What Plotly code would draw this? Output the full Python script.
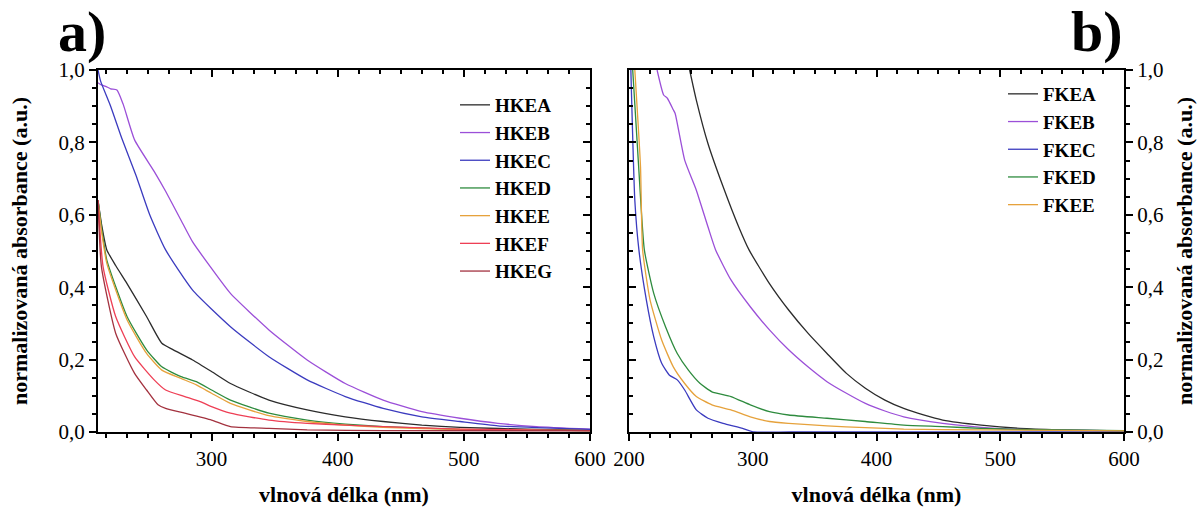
import plotly.graph_objects as go

W, H = 1197, 507

# ---------- Panel a data ----------
hkea_x = [210, 213, 217, 224, 233, 248.5, 260.6, 269.7, 285, 300, 315, 345.5, 375.8, 406, 436, 466.7, 497, 557.6, 600]
hkea_y = [0.64, 0.57, 0.503, 0.46, 0.41, 0.319, 0.245, 0.227, 0.199, 0.167, 0.134, 0.088, 0.061, 0.042, 0.029, 0.019, 0.013, 0.007, 0.005]

hkeb_x = [210, 212, 216, 220, 225, 230, 239, 254.5, 263.6, 275.8, 285, 300, 315, 345.5, 375.8, 406, 436, 466.7, 497, 527, 557.6, 600]
hkeb_y = [0.965, 0.96, 0.955, 0.948, 0.945, 0.905, 0.807, 0.72, 0.665, 0.585, 0.525, 0.452, 0.383, 0.282, 0.199, 0.134, 0.088, 0.056, 0.038, 0.024, 0.015, 0.008]

hkec_x = [210, 212, 220, 229, 240, 251, 263.6, 285, 315, 345.5, 375.8, 406, 436, 466.7, 497, 527, 557.6, 600]
hkec_y = [1.0, 0.97, 0.9, 0.81, 0.71, 0.6, 0.503, 0.392, 0.291, 0.208, 0.144, 0.098, 0.065, 0.042, 0.029, 0.017, 0.012, 0.007]

hked_x = [210, 213, 217, 233, 248.5, 260.6, 275.8, 288, 300, 315, 345.5, 375.8, 406, 436, 497, 600]
hked_y = [0.64, 0.56, 0.475, 0.319, 0.227, 0.18, 0.153, 0.139, 0.116, 0.088, 0.052, 0.033, 0.022, 0.015, 0.007, 0.004]

hkee_x = [210, 213, 217, 233, 248.5, 260.6, 275.8, 288, 300, 315, 345.5, 375.8, 406, 436, 497, 600]
hkee_y = [0.64, 0.55, 0.466, 0.31, 0.217, 0.171, 0.148, 0.13, 0.107, 0.079, 0.045, 0.029, 0.019, 0.013, 0.007, 0.004]

hkef_x = [210, 214, 224, 239, 254.5, 263.6, 278.8, 291, 300, 315, 345.5, 375.8, 406, 436, 497, 600]
hkef_y = [0.64, 0.457, 0.319, 0.208, 0.144, 0.116, 0.098, 0.084, 0.07, 0.052, 0.033, 0.024, 0.019, 0.015, 0.008, 0.004]

hkeg_x = [210, 212.7, 224, 239, 248.5, 257.6, 263.6, 278.8, 300, 315, 345.5, 375.8, 436, 600]
hkeg_y = [0.64, 0.457, 0.273, 0.162, 0.116, 0.075, 0.065, 0.052, 0.033, 0.015, 0.01, 0.006, 0.004, 0.003]

# ---------- Panel b data ----------
fkea_x = [249, 254.4, 263.8, 276, 288.6, 297, 313.5, 329, 344.6, 360, 375.7, 391, 406.8, 422, 438, 453.5, 484.6, 515.7, 546.8, 600]
fkea_y = [1.0, 0.917, 0.797, 0.678, 0.567, 0.503, 0.41, 0.337, 0.273, 0.217, 0.162, 0.121, 0.088, 0.065, 0.047, 0.033, 0.019, 0.010, 0.006, 0.003]

fkeb_x = [222.7, 228, 231, 235.8, 237.3, 245, 254.4, 263.8, 270, 282.4, 298, 313.5, 329, 344.6, 360, 375.7, 391, 406.8, 422, 453.5, 484.6, 515.7, 600]
fkeb_y = [1.0, 0.931, 0.922, 0.89, 0.88, 0.751, 0.668, 0.567, 0.503, 0.42, 0.346, 0.282, 0.227, 0.18, 0.139, 0.107, 0.079, 0.058, 0.042, 0.024, 0.013, 0.007, 0.003]

fkec_x = [201.5, 204.7, 208, 214, 220, 226.4, 232.7, 239, 245, 254.4, 263.8, 276, 291.8, 301, 330, 600]
fkec_y = [1.0, 0.64, 0.503, 0.365, 0.263, 0.19, 0.157, 0.144, 0.116, 0.061, 0.038, 0.024, 0.01, 0.0, 0.0, 0.0]

fked_x = [203, 207.8, 212.4, 220, 229.5, 239, 248, 257.5, 267, 282.4, 298, 313.5, 329, 360, 391, 422, 453.5, 484.6, 515.7, 600]
fked_y = [1.0, 0.733, 0.503, 0.383, 0.291, 0.217, 0.171, 0.134, 0.111, 0.098, 0.075, 0.056, 0.047, 0.038, 0.029, 0.019, 0.015, 0.010, 0.007, 0.004]

fkee_x = [204.7, 209.3, 211, 217, 226.4, 235.8, 245, 254.4, 267, 282.4, 298, 313.5, 329, 360, 391, 422, 484.6, 600]
fkee_y = [1.0, 0.733, 0.503, 0.365, 0.254, 0.18, 0.134, 0.098, 0.075, 0.061, 0.042, 0.029, 0.024, 0.017, 0.012, 0.008, 0.006, 0.003]

series_a = [
    ("HKEA", hkea_x, hkea_y, "#2b2b2b"),
    ("HKEB", hkeb_x, hkeb_y, "#9b4fd8"),
    ("HKEC", hkec_x, hkec_y, "#3b3bbf"),
    ("HKED", hked_x, hked_y, "#2e8b3e"),
    ("HKEE", hkee_x, hkee_y, "#e6a23c"),
    ("HKEF", hkef_x, hkef_y, "#ee3f55"),
    ("HKEG", hkeg_x, hkeg_y, "#a3323f"),
]
series_b = [
    ("FKEA", fkea_x, fkea_y, "#2b2b2b"),
    ("FKEB", fkeb_x, fkeb_y, "#9b4fd8"),
    ("FKEC", fkec_x, fkec_y, "#3b3bbf"),
    ("FKED", fked_x, fked_y, "#2e8b3e"),
    ("FKEE", fkee_x, fkee_y, "#e6a23c"),
]

x_tick_a = [300, 400, 500, 600]
x_tick_b = [200, 300, 400, 500, 600]
y_ticks = [0.0, 0.2, 0.4, 0.6, 0.8, 1.0]

FONT = "'Liberation Serif', 'Times New Roman', Times, serif"

# plot-area geometry (pixels)
L, R, T, B = 98, 1124, 70, 432
PW, PH = R - L, B - T


def px(x):
    return (x - L) / PW


def py(y):
    return (B - y) / PH


fig = go.Figure()
for name, xs, ys, c in series_a:
    fig.add_trace(go.Scatter(x=xs, y=ys, mode="lines", name=name,
                             line=dict(color=c, width=1.3, shape="spline", smoothing=0.5),
                             xaxis="x", yaxis="y", legend="legend"))
for name, xs, ys, c in series_b:
    fig.add_trace(go.Scatter(x=xs, y=ys, mode="lines", name=name,
                             line=dict(color=c, width=1.3, shape="spline", smoothing=0.5),
                             xaxis="x2", yaxis="y2", legend="legend2"))
# empty traces so the mirror axes are drawn
fig.add_trace(go.Scatter(x=[], y=[], xaxis="x3", yaxis="y3", showlegend=False, hoverinfo="skip"))
fig.add_trace(go.Scatter(x=[], y=[], xaxis="x4", yaxis="y4", showlegend=False, hoverinfo="skip"))

dom_a = [0, px(590)]
dom_b = [px(629), 1]
dom_y = [0, 1]

tickfont = dict(family=FONT, size=21, color="black")
titlefont = dict(family=FONT, size=22, color="black", weight="bold")

minor_out_x = dict(ticks="outside", ticklen=4, tickwidth=1.5, tickcolor="black", dtick=100 / 6, tick0=200, showgrid=False)
minor_in_x = dict(minor_out_x, ticks="inside")
minor_out_y = dict(ticks="outside", ticklen=4, tickwidth=1.5, tickcolor="black", dtick=0.05, tick0=0, showgrid=False)
minor_in_y = dict(minor_out_y, ticks="inside")

common = dict(showline=True, linecolor="black", linewidth=2, ticklen=7, tickwidth=1.5,
              tickcolor="black", showgrid=False, zeroline=False, automargin=False)

fig.update_layout(
    width=W, height=H,
    margin=dict(l=L, r=W - R, t=T, b=H - B, autoexpand=False),
    paper_bgcolor="white", plot_bgcolor="white",
    separators=", ",
    font=dict(family=FONT, color="black"),
    xaxis=dict(domain=dom_a, range=[210, 600], anchor="y", tickvals=x_tick_a, ticks="outside",
               tickfont=tickfont, minor=minor_out_x,
               title=dict(text="vlnová délka (nm)", font=titlefont, standoff=16), **common),
    yaxis=dict(domain=dom_y, anchor="x", range=[0, 1], tickvals=y_ticks, tickformat=".1f", ticks="outside",
               tickfont=tickfont, minor=minor_out_y,
               title=dict(text="normalizovaná absorbance (a.u.)", font=titlefont, standoff=25), **common),
    xaxis2=dict(domain=dom_b, range=[200, 600], anchor="y2", tickvals=x_tick_b, ticks="outside",
                tickfont=tickfont, minor=minor_out_x,
                title=dict(text="vlnová délka (nm)", font=titlefont, standoff=16), **common),
    yaxis2=dict(domain=dom_y, anchor="x2", side="right", range=[0, 1], tickvals=y_ticks, tickformat=".1f",
                ticks="outside", tickfont=tickfont, minor=minor_out_y,
                title=dict(text="normalizovaná absorbance (a.u.)", font=titlefont, standoff=18), **common),
    xaxis3=dict(overlaying="x", anchor="y", side="top", range=[210, 600], tickvals=x_tick_a, ticks="inside",
                showticklabels=False, minor=minor_in_x, **common),
    yaxis3=dict(overlaying="y", anchor="x", side="right", range=[0, 1], tickvals=y_ticks, ticks="inside",
                showticklabels=False, minor=minor_in_y, **common),
    xaxis4=dict(overlaying="x2", anchor="y2", side="top", range=[200, 600], tickvals=x_tick_b, ticks="inside",
                showticklabels=False, minor=minor_in_x, **common),
    yaxis4=dict(overlaying="y2", anchor="x2", side="left", range=[0, 1], tickvals=y_ticks, ticks="inside",
                showticklabels=False, minor=minor_in_y, **common),
    legend=dict(x=px(455), y=py(86), xanchor="left", yanchor="top", bgcolor="rgba(0,0,0,0)",
                font=dict(family=FONT, size=19, color="black", weight="bold"), itemwidth=30),
    legend2=dict(x=px(1003), y=py(75), xanchor="left", yanchor="top", bgcolor="rgba(0,0,0,0)",
                 font=dict(family=FONT, size=19, color="black", weight="bold"), itemwidth=30),
    showlegend=True,
    annotations=[
        dict(text="<b>a)</b>", x=px(82), y=py(66), xref="paper", yref="paper", xanchor="center",
             yanchor="bottom", showarrow=False, font=dict(family=FONT, size=58, color="black")),
        dict(text="<b>b)</b>", x=px(1097), y=py(66), xref="paper", yref="paper", xanchor="center",
             yanchor="bottom", showarrow=False, font=dict(family=FONT, size=58, color="black")),
    ],
)

fig.write_html("out.html", config={"displayModeBar": False},
               post_script="document.body.style.margin='0';document.body.style.padding='0';")
